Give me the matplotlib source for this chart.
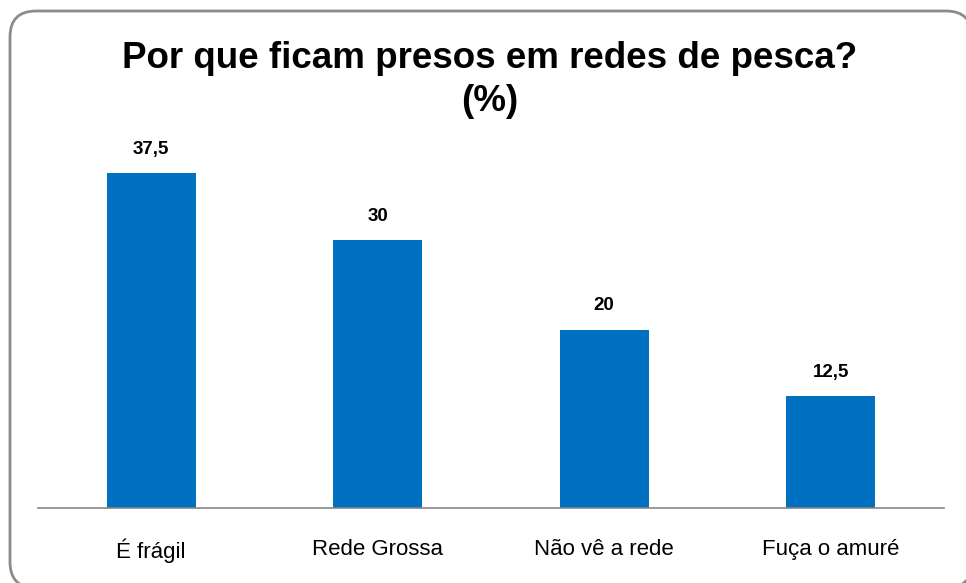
import matplotlib.pyplot as plt
from matplotlib.patches import FancyBboxPatch

plt.rcParams['font.family'] = ['Liberation Sans', 'DejaVu Sans']

categories = ["É frágil", "Rede Grossa", "Não vê a rede", "Fuça o amuré"]
values = [37.5, 30, 20, 12.5]
value_labels = ["37,5", "30", "20", "12,5"]
title_lines = ["Por que ficam presos em redes de pesca?", "(%)"]

W, H = 966, 583
fig = plt.figure(figsize=(W / 100, H / 100), dpi=100)

# background axes in pixel units for the rounded frame
bg = fig.add_axes([0, 0, 1, 1], zorder=-1)
bg.set_xlim(0, W)
bg.set_ylim(H, 0)
bg.axis("off")
bg.add_patch(FancyBboxPatch((10, 11), 962, 577,
                            boxstyle="round,pad=0,rounding_size=26",
                            facecolor="white", edgecolor="#8c8c8c", linewidth=2))

ax = fig.add_axes([38 / W, (H - 508) / H, (944 - 38) / W, 357 / H])
ax.set_facecolor("none")
x = range(len(categories))
bars = ax.bar(x, values, width=0.394, color="#0070C0")
ax.set_xlim(-0.5, 3.5)
ax.set_ylim(0, 40)

for b, lab in zip(bars, value_labels):
    ax.annotate(lab, (b.get_x() + b.get_width() / 2, b.get_height()),
                xytext=(0, 11), textcoords="offset points", ha="center",
                va="bottom", fontsize=13.5, fontweight="bold")

for s in ["top", "right", "left"]:
    ax.spines[s].set_visible(False)
ax.spines["bottom"].set_color("#868686")
ax.spines["bottom"].set_linewidth(1.2)
ax.set_yticks([])
ax.set_xticks(list(x))
ax.set_xticklabels(categories, fontsize=16)
ax.tick_params(axis="x", length=0, pad=22)

fig.text(490 / W, 1 - 58 / H, title_lines[0], ha="center", va="center",
         fontsize=26.5, fontweight="bold")
fig.text(490 / W, 1 - 102 / H, title_lines[1], ha="center", va="center",
         fontsize=26.5, fontweight="bold")

fig.savefig("out.png", dpi=100)
